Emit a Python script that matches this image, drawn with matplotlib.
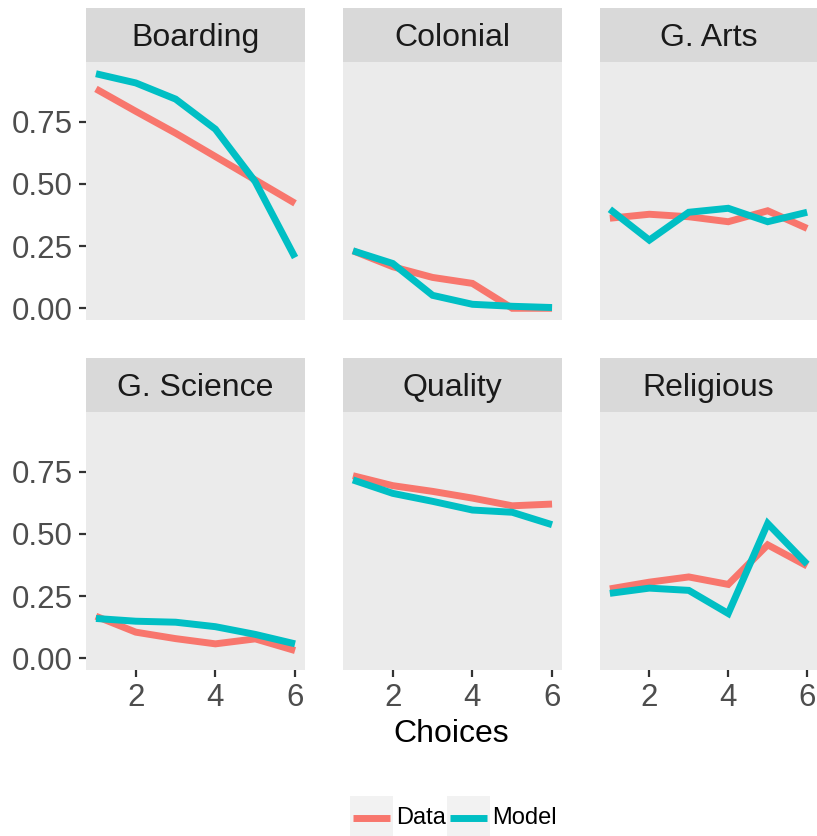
import matplotlib
matplotlib.use("Agg")
import matplotlib.pyplot as plt
from matplotlib.patches import Rectangle
from matplotlib.lines import Line2D

plt.rcParams['font.family'] = ['Liberation Sans', 'DejaVu Sans']

choices = [1, 2, 3, 4, 5, 6]
panels = ["Boarding", "Colonial", "G. Arts", "G. Science", "Quality", "Religious"]

data_boarding = [0.882, 0.792, 0.704, 0.610, 0.516, 0.422]
model_boarding = [0.943, 0.906, 0.841, 0.720, 0.509, 0.204]
data_colonial = [0.231, 0.167, 0.124, 0.100, 0.000, 0.000]
model_colonial = [0.231, 0.180, 0.052, 0.016, 0.008, 0.003]
data_arts = [0.362, 0.378, 0.368, 0.348, 0.392, 0.321]
model_arts = [0.398, 0.274, 0.386, 0.402, 0.348, 0.386]
data_science = [0.169, 0.105, 0.079, 0.058, 0.078, 0.031]
model_science = [0.160, 0.149, 0.145, 0.127, 0.096, 0.058]
data_quality = [0.734, 0.694, 0.671, 0.644, 0.613, 0.620]
model_quality = [0.717, 0.663, 0.631, 0.596, 0.587, 0.537]
data_religious = [0.279, 0.306, 0.327, 0.297, 0.456, 0.371]
model_religious = [0.261, 0.282, 0.273, 0.180, 0.542, 0.378]

data_series = [data_boarding, data_colonial, data_arts, data_science, data_quality, data_religious]
model_series = [model_boarding, model_colonial, model_arts, model_science, model_quality, model_religious]

yticks = [0.00, 0.25, 0.50, 0.75]
ytick_labels = ["0.00", "0.25", "0.50", "0.75"]
xticks = [2, 4, 6]

COL_DATA = "#F8766D"
COL_MODEL = "#00BFC4"

W, H = 817, 836
fig = plt.figure(figsize=(W / 100, H / 100), dpi=100)

def rect(x0, y0, x1, y1):
    return [x0 / W, 1 - y1 / H, (x1 - x0) / W, (y1 - y0) / H]

cols = [(86, 305), (343, 562), (600, 817)]
rows = [(62, 320, 8), (412, 670, 358)]

allv = [v for s in data_series + model_series for v in s]
ymin, ymax = min(allv), max(allv)
pad = 0.05 * (ymax - ymin)
ylim = (ymin - pad, ymax + pad)
xlim = (1 - 0.05 * 5, 6 + 0.05 * 5)

FS = 22.5
FS_STRIP = 23
for i, name in enumerate(panels):
    r, c = divmod(i, 3)
    x0, x1 = cols[c]
    ptop, pbot, stop = rows[r]
    ax = fig.add_axes(rect(x0, ptop, x1, pbot))
    ax.set_facecolor("#EBEBEB")
    ax.plot(choices, data_series[i], color=COL_DATA, lw=5, solid_capstyle='butt', solid_joinstyle='miter')
    ax.plot(choices, model_series[i], color=COL_MODEL, lw=5, solid_capstyle='butt', solid_joinstyle='miter')
    ax.set_xlim(*xlim)
    ax.set_ylim(*ylim)
    for sp in ax.spines.values():
        sp.set_visible(False)
    ax.set_yticks(yticks)
    ax.set_xticks(xticks)
    ax.tick_params(colors="#333333", labelcolor="#4D4D4D", labelsize=FS, length=4.8, width=1.6, pad=4.5)
    if c == 0:
        ax.set_yticklabels(ytick_labels)
    else:
        ax.tick_params(axis='y', left=False, labelleft=False)
    if r == 1:
        ax.set_xticklabels([str(t) for t in xticks])
    else:
        ax.tick_params(axis='x', bottom=False, labelbottom=False)
    # strip
    sax = fig.add_axes(rect(x0, stop, x1, ptop))
    sax.set_facecolor("#D9D9D9")
    sax.set_xticks([]); sax.set_yticks([])
    for sp in sax.spines.values():
        sp.set_visible(False)
    sax.text(0.5, 0.44, name, ha='center', va='center', fontsize=FS_STRIP, color="#1A1A1A", transform=sax.transAxes)

fig.text(451.5 / W, 1 - 734 / H, "Choices", ha='center', va='center', fontsize=FS_STRIP, color="black")

# legend
key_y = 818
for label, col, kx0, tx in [("Data", COL_DATA, 350, 396), ("Model", COL_MODEL, 447, 492)]:
    fig.patches.append(Rectangle((kx0 / W, 1 - 836 / H), 43 / W, 40 / H, transform=fig.transFigure,
                                 facecolor="#F2F2F2", edgecolor='none'))
    fig.lines.append(Line2D([(kx0 + 3) / W, (kx0 + 40) / W], [1 - key_y / H, 1 - key_y / H],
                            transform=fig.transFigure, color=col, lw=5, solid_capstyle='butt'))
    fig.text(tx / W, 1 - key_y / H, label, ha='left', va='center', fontsize=17, color="black")

fig.savefig("out.png", dpi=100)
